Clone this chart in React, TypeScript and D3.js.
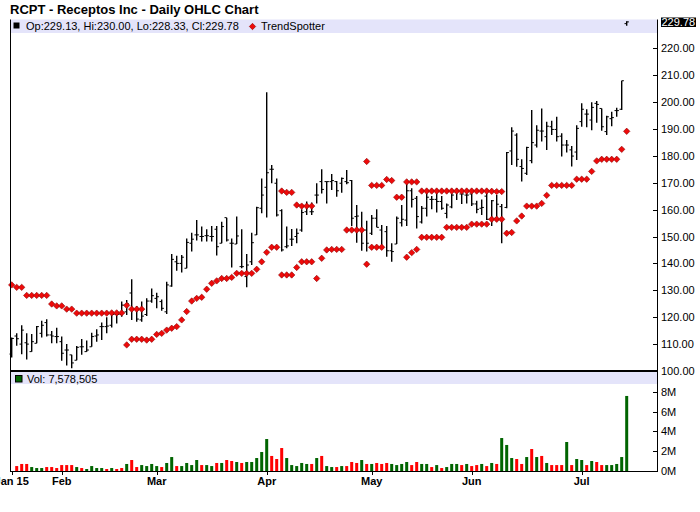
import React from "react";
import * as d3 from "d3";

// ---- data (index 0 = 16 Jan 2015, one entry per trading day) ----
const opens = [106.3,113.0,110.0,110.5,107.2,110.3,114.0,118.0,113.4,112.8,110.9,107.8,106.0,104.0,109.0,107.2,109.0,113.0,116.5,116.5,117.0,121.0,121.0,122.0,129.0,123.0,119.0,121.0,126.0,127.0,125.8,122.0,131.6,140.6,140.0,138.2,147.5,150.6,150.0,150.3,150.0,152.7,147.5,157.0,147.5,147.2,138.8,135.1,140.6,150.6,160.5,168.3,175.0,169.8,159.6,146.2,149.0,150.0,152.4,159.2,159.2,165.4,170.4,170.4,170.4,170.4,169.8,170.4,170.8,157.4,152.4,152.4,151.2,156.8,152.4,151.8,144.7,147.2,155.1,156.1,167.0,164.2,155.4,160.5,163.8,163.8,163.0,158.6,161.0,166.5,165.8,165.4,165.8,162.1,160.5,165.0,156.4,156.8,161.1,160.8,181.8,187.7,176.0,173.5,178.2,184.0,189.2,187.1,190.8,189.8,187.3,184.0,182.2,181.4,192.7,195.5,193.3,199.5,197.6,189.0,193.8,196.8,197.3,229.13];
const highs = [112.5,114.0,117.0,114.0,113.8,116.7,118.7,119.2,114.9,116.1,112.8,110.0,106.0,109.3,111.9,111.3,114.2,115.5,118.0,120.0,122.0,122.0,125.8,126.4,134.1,124.2,125.8,127.0,130.7,129.1,126.6,133.2,143.5,142.8,143.1,149.3,151.4,156.1,153.7,152.7,153.9,153.9,155.5,157.0,149.3,157.4,152.7,143.5,151.4,161.1,171.6,203.6,176.6,171.6,160.1,153.7,152.8,153.0,160.1,163.0,162.6,169.8,175.0,170.4,173.2,170.6,171.9,174.7,171.0,161.7,159.2,155.9,158.0,160.1,154.3,153.9,147.5,157.4,161.7,171.0,167.9,165.1,161.3,166.7,165.1,166.7,165.1,162.3,166.0,167.9,167.3,167.0,166.0,163.3,163.8,166.3,163.6,165.4,162.1,181.4,190.6,188.4,178.7,183.4,197.0,191.4,197.6,192.7,193.0,194.5,188.4,185.9,183.6,191.4,199.5,197.3,199.9,200.4,197.6,194.9,196.4,197.9,207.9,230.0];
const lows = [105.0,109.4,106.2,104.3,107.2,110.3,112.5,112.8,110.3,110.3,103.8,102.0,101.0,104.0,106.0,107.2,109.0,110.9,111.5,114.0,116.2,117.7,120.2,120.8,119.0,118.3,118.3,120.4,125.4,123.3,122.4,121.2,131.3,137.3,136.6,138.2,144.4,148.5,148.1,148.1,148.1,142.9,147.5,148.1,138.5,147.2,138.2,131.1,139.4,150.6,158.6,157.1,169.8,157.4,144.4,145.6,146.5,147.5,151.8,158.0,158.0,162.3,166.0,162.3,167.3,164.8,166.3,169.4,153.9,147.7,144.7,144.4,150.6,153.4,145.6,142.5,140.6,147.2,153.7,153.9,160.8,153.0,154.8,157.4,160.1,158.9,159.9,156.8,160.5,163.6,162.1,162.3,161.3,158.6,158.0,156.1,153.9,156.4,147.5,160.5,176.6,175.9,170.4,172.9,177.2,183.1,185.3,182.2,187.7,185.3,179.7,181.2,176.0,178.4,190.8,190.6,189.5,192.3,189.3,187.7,191.0,194.5,197.0,228.33];
const closes = [112.1,112.0,115.2,110.0,110.9,116.5,117.0,113.4,113.0,112.8,106.6,107.8,103.0,108.8,109.0,107.8,112.8,113.4,116.5,116.7,121.0,121.0,124.5,125.0,123.0,119.3,120.4,126.0,128.0,127.6,123.3,132.0,141.5,140.0,142.3,147.8,149.0,150.6,150.0,150.3,150.0,146.2,153.7,148.7,147.5,150.2,138.8,139.4,147.7,160.7,165.4,173.7,175.0,158.0,145.0,146.5,149.0,151.2,158.9,161.3,159.2,165.4,167.5,170.4,170.8,167.0,171.6,170.0,156.8,157.6,147.5,147.5,156.8,153.4,146.0,144.7,144.4,156.8,156.4,167.0,163.8,157.4,160.5,164.6,163.8,163.0,160.5,161.7,165.4,166.8,165.8,165.4,162.1,160.1,160.8,156.4,163.3,162.0,156.4,181.2,189.2,178.7,175.3,183.1,184.9,189.5,189.2,191.0,189.8,187.1,184.0,184.0,179.9,190.2,197.3,195.5,198.0,199.1,190.8,194.5,194.2,196.8,207.9,229.78];

// TrendSpotter: main series and a second value shown on some days
const trendMain = [132.0,131.1,131.1,128.1,128.1,128.1,128.1,128.1,124.9,124.2,124.2,123.0,123.0,121.5,121.5,121.5,121.5,121.5,121.5,121.5,121.6,121.6,121.6,124.4,123.0,123.0,123.0,111.5,111.8,113.6,114.0,115.2,115.9,116.5,119.0,122.1,126.0,127.0,127.4,130.4,132.6,133.5,134.4,134.4,134.8,136.3,136.3,136.3,136.3,137.8,140.6,144.1,146.0,146.0,166.9,166.4,166.4,161.7,161.3,161.3,161.3,134.4,141.9,145.0,145.2,145.2,145.2,152.4,152.4,152.4,152.4,177.9,169.0,169.0,169.0,171.2,170.8,164.6,164.6,170.3,170.3,170.3,166.9,166.9,166.9,166.9,166.9,166.9,166.9,166.9,166.9,166.9,166.9,166.9,166.9,166.9,166.8,166.7,166.7,151.2,151.5,155.8,157.6,161.3,161.3,161.3,162.3,165.3,169.0,169.0,169.0,169.0,169.0,171.3,171.3,171.3,174.2,178.1,178.7,178.7,178.7,178.7,182.4,189.1];
const trendAlt = [null,null,null,null,null,null,null,null,null,null,null,null,null,null,null,null,null,null,null,null,null,null,null,109.7,111.8,111.8,111.8,null,null,null,null,null,null,null,null,null,null,null,null,null,null,null,null,null,null,null,null,null,null,null,null,null,null,null,135.7,135.7,135.7,138.5,140.6,140.6,140.6,null,null,null,null,null,null,null,null,null,null,139.7,146.0,146.0,146.0,null,null,null,null,142.3,144.0,145.2,149.7,149.7,149.7,149.7,149.7,153.4,153.4,153.4,153.4,153.4,154.6,154.6,154.6,154.6,156.4,156.4,156.4,null,null,null,null,null,null,null,null,null,null,null,null,null,null,null,null,null,null,null,null,null,null,null,null,null];

// Volume in millions and whether the bar is green (1) or red (0)
const volumes = [0,0.50,0.71,0.71,0.40,0.30,0.30,0.40,0.40,0.30,0.60,0.60,0.60,0.40,0.30,0.20,0.50,0.30,0.30,0.20,0.30,0.20,0.30,0.71,1.11,0.40,0.60,0.50,0.71,0.50,0.40,0.81,1.41,0.50,0.50,0.81,0.60,1.11,0.60,0.60,0.50,0.81,0.81,1.11,1.01,0.91,0.81,0.91,0.91,1.31,1.92,3.23,1.52,1.21,2.32,1.31,0.60,0.50,0.81,0.71,0.71,1.31,1.52,0.50,0.40,0.40,0.50,0.50,0.91,0.81,1.11,0.71,0.71,0.81,0.71,0.81,0.71,0.60,0.71,0.91,0.60,0.91,0.71,0.71,0.40,0.60,0.30,0.40,0.71,0.71,0.60,0.71,0.50,0.60,0.71,0.50,0.81,0.71,3.33,2.63,1.31,1.21,0.71,1.41,2.22,1.41,1.52,0.81,0.60,0.60,0.60,2.93,0.60,1.21,1.11,0.60,1.01,0.91,0.60,0.60,0.60,0.71,1.41,7.58];
const volumeUp = [1,0,0,0,1,1,1,0,0,0,0,0,0,1,0,1,1,1,1,0,1,0,0,1,0,0,1,1,1,1,0,1,1,0,1,1,1,1,0,1,1,0,1,0,0,1,0,1,1,1,1,1,0,0,0,1,1,1,1,1,0,1,0,1,1,0,1,0,0,0,1,0,1,0,0,0,1,1,1,1,0,0,1,1,0,1,0,1,1,1,0,1,0,0,1,0,1,0,1,1,1,0,0,1,0,1,0,1,0,0,0,1,0,1,1,0,1,0,0,1,1,1,1,1];

const monthLabels = ["Jan 15", "Feb", "Mar", "Apr", "May", "Jun", "Jul"];
const monthStarts = [0, 10, 29, 51, 72, 92, 114];
const priceTicks = [100, 110, 120, 130, 140, 150, 160, 170, 180, 190, 200, 210, 220];
const volumeTicks = [0, 2, 4, 6, 8];
const lastClose = "229.78";
const headerText = "Op:229.13, Hi:230.00, Lo:228.33, Cl:229.78";
const volumeText = "Vol: 7,578,505";

const FONT = "'Liberation Sans', Arial, sans-serif";

export default function App() {
  const left = 10;
  const axisX = 657;
  const n = closes.length;
  const x = d3.scaleLinear().domain([0, n - 1]).range([11.7, 626.7]);
  const y = d3.scaleLinear().domain([100, 230]).range([371, 21.3]);
  const yv = d3.scaleLinear().domain([0, 8]).range([471, 391.8]);
  const diamond = (cx: number, cy: number) =>
    `M${cx},${cy - 3.2}L${cx + 3.2},${cy}L${cx},${cy + 3.2}L${cx - 3.2},${cy}Z`;
  const dFill = "#ee0a0a";
  const dStroke = "#8a0000";

  return (
    <svg width={700} height={512} style={{ position: "absolute", left: 0, top: 0, display: "block", background: "#fff" }} fontFamily={FONT}>
      <rect x={0} y={0} width={700} height={512} fill="#fff" />
      <text x={10} y={14} fontSize={13} fontWeight="bold" fill="#000">RCPT - Receptos Inc - Daily OHLC Chart</text>

      {/* price header */}
      <rect x={left + 1} y={19.5} width={axisX - left - 1} height={13.5} fill="#e4e4fa" />
      <rect x={13.5} y={22.5} width={6} height={6} fill="#000" />
      <text x={26} y={30} fontSize={11} fill="#000">{headerText}</text>
      <path d={diamond(252.5, 26.5)} fill={dFill} stroke={dStroke} strokeWidth={0.6} />
      <text x={261} y={30} fontSize={11} fill="#000">TrendSpotter</text>

      {/* OHLC bars */}
      {closes.map((c, i) => {
        const cx = x(i);
        return (
          <g key={"b" + i} stroke="#000">
            <line x1={cx} x2={cx} y1={y(highs[i])} y2={y(lows[i])} strokeWidth={1.4} />
            <line x1={cx - 2.2} x2={cx} y1={y(opens[i])} y2={y(opens[i])} strokeWidth={1} />
            <line x1={cx} x2={cx + 2.2} y1={y(c)} y2={y(c)} strokeWidth={1} />
          </g>
        );
      })}

      {/* TrendSpotter */}
      {trendMain.map((v, i) =>
        v == null ? null : <path key={"t" + i} d={diamond(x(i), y(v))} fill={dFill} stroke={dStroke} strokeWidth={0.6} />
      )}
      {trendAlt.map((v, i) =>
        v == null ? null : <path key={"a" + i} d={diamond(x(i), y(v))} fill={dFill} stroke={dStroke} strokeWidth={0.6} />
      )}

      {/* volume header */}
      <rect x={left + 1} y={372} width={axisX - left - 1} height={12} fill="#e4e4fa" />
      <rect x={15.5} y={375.5} width={6.5} height={6.5} fill="#006400" stroke="#000" strokeWidth={1} />
      <text x={27} y={382.5} fontSize={11} fill="#000">{volumeText}</text>

      {/* volume bars */}
      {volumes.map((v, i) =>
        v > 0 ? (
          <rect key={"v" + i} x={x(i) - 1.5} y={yv(v)} width={3} height={yv(0) - yv(v)} fill={volumeUp[i] ? "#006400" : "#ff0000"} />
        ) : null
      )}

      {/* frame */}
      <line x1={left + 0.5} x2={left + 0.5} y1={19.5} y2={471} stroke="#000" strokeWidth={1} />
      <line x1={axisX + 0.5} x2={axisX + 0.5} y1={19.5} y2={471} stroke="#000" strokeWidth={1} />
      <line x1={left} x2={axisX + 1} y1={371} y2={371} stroke="#000" strokeWidth={2} />
      <line x1={left} x2={axisX + 1} y1={471.5} y2={471.5} stroke="#000" strokeWidth={1} />

      {/* price axis */}
      {priceTicks.map((t) => (
        <g key={"p" + t}>
          <line x1={axisX - 4} x2={axisX} y1={Math.round(y(t)) + 0.5} y2={Math.round(y(t)) + 0.5} stroke="#000" />
          <text x={661} y={y(t) + 4} fontSize={11} fill="#000">{t.toFixed(2)}</text>
        </g>
      ))}
      <rect x={661} y={17.5} width={35} height={9.5} fill="#000" />
      <text x={661.5} y={26} fontSize={11} fill="#fff">{lastClose}</text>

      {/* volume axis */}
      {volumeTicks.map((t) => (
        <g key={"vt" + t}>
          <line x1={axisX - 4} x2={axisX} y1={Math.round(yv(t)) + 0.5} y2={Math.round(yv(t)) + 0.5} stroke="#000" />
          <text x={661} y={yv(t) + 4} fontSize={11} fill="#000">{t + "M"}</text>
        </g>
      ))}

      {/* date axis */}
      {monthStarts.map((m, k) => (
        <g key={"m" + k}>
          <line x1={Math.round(x(m)) + 0.5} x2={Math.round(x(m)) + 0.5} y1={471} y2={475} stroke="#000" />
          <text x={x(m)} y={485} fontSize={11} fontWeight="bold" textAnchor="middle" fill="#000">{monthLabels[k]}</text>
        </g>
      ))}
    </svg>
  );
}
